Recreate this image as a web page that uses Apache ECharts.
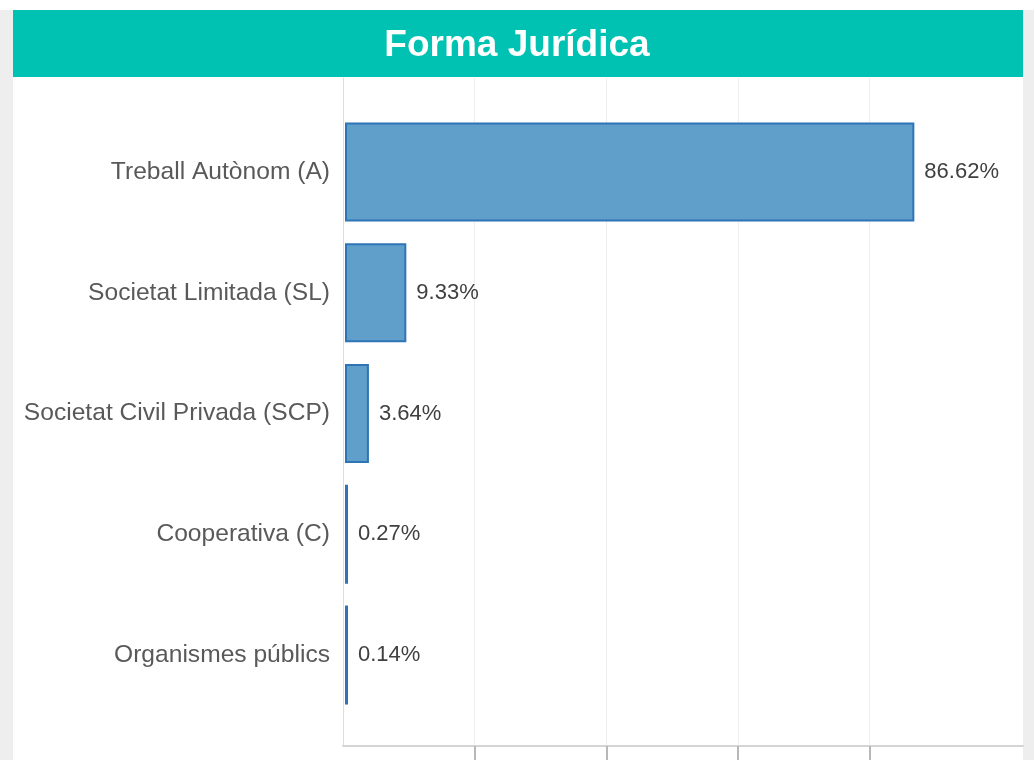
<!DOCTYPE html>
<html>
<head>
<meta charset="utf-8">
<script src="https://cdn.jsdelivr.net/npm/echarts@6/dist/echarts.min.js"></script>
<style>
  html, body { margin: 0; padding: 0; background: #fff; }
  #chart { width: 1034px; height: 760px; }
</style>
</head>
<body>
<div id="chart"></div>
<script>
  // dades
  var categories = ['Treball Autònom (A)', 'Societat Limitada (SL)', 'Societat Civil Privada (SCP)', 'Cooperativa (C)', 'Organismes públics'];
  var percents = [86.62, 9.33, 3.64, 0.27, 0.14];
  var tickValues = [20, 40, 60, 80];
  var axisMax = 103.3;
  var barAxisMax = 103.15;

  var chart = echarts.init(document.getElementById('chart'));
  var font = '"Liberation Sans", Arial, sans-serif';

  var option = {
    backgroundColor: '#fff',
    animation: false,
    title: {
      text: 'Forma Jurídica',
      left: 'center',
      top: 22,
      textStyle: { color: '#fff', fontSize: 37, fontWeight: 'bold', fontFamily: font }
    },
    graphic: [
      { type: 'rect', left: 0, top: 10, z: -10, shape: { width: 13, height: 750 }, style: { fill: '#eeeeee' } },
      { type: 'rect', left: 1023, top: 10, z: -10, shape: { width: 11, height: 750 }, style: { fill: '#eeeeee' } },
      { type: 'rect', left: 13, top: 10, z: -5, shape: { width: 1010, height: 67 }, style: { fill: '#00c2b2' } }
    ],
    grid: [
      // marc: línies de la graella i eixos
      { left: 343, right: 11, top: 78, bottom: 14 },
      // barres
      { left: 345, right: 11, top: 111.6, bottom: 44.6 }
    ],
    xAxis: [
      {
        gridIndex: 0, type: 'value', min: 0, max: axisMax,
        axisLine: { show: true, lineStyle: { color: '#d4d4d4', width: 2 } },
        axisTick: { show: true, customValues: tickValues, length: 14, lineStyle: { color: '#b8b8b8', width: 2 } },
        axisLabel: { show: false },
        splitLine: { show: true, lineStyle: { color: '#eeeeee', width: 1 } }
      },
      {
        gridIndex: 1, type: 'value', min: 0, max: barAxisMax, show: false
      }
    ],
    yAxis: [
      {
        gridIndex: 0, type: 'category', data: categories, inverse: true,
        axisLine: { show: true, lineStyle: { color: '#dcdcdc', width: 1 } },
        axisTick: { show: false }, axisLabel: { show: false }, splitLine: { show: false }
      },
      {
        gridIndex: 1, type: 'category', data: categories, inverse: true,
        axisLine: { show: false }, axisTick: { show: false },
        axisLabel: { margin: 15, color: '#595959', fontSize: 24.6, fontFamily: font }
      }
    ],
    series: [{
      type: 'bar',
      xAxisIndex: 1,
      yAxisIndex: 1,
      clip: false,
      data: percents,
      barWidth: 99,
      barMinHeight: 3,
      itemStyle: { color: '#619fcb', borderColor: '#2e75b6', borderWidth: 2 },
      label: {
        show: true, position: 'right', distance: 10,
        color: '#404040', fontSize: 22, fontFamily: font,
        formatter: function (p) { return p.value.toFixed(2) + '%'; }
      }
    }]
  };

  chart.setOption(option);
</script>
</body>
</html>
